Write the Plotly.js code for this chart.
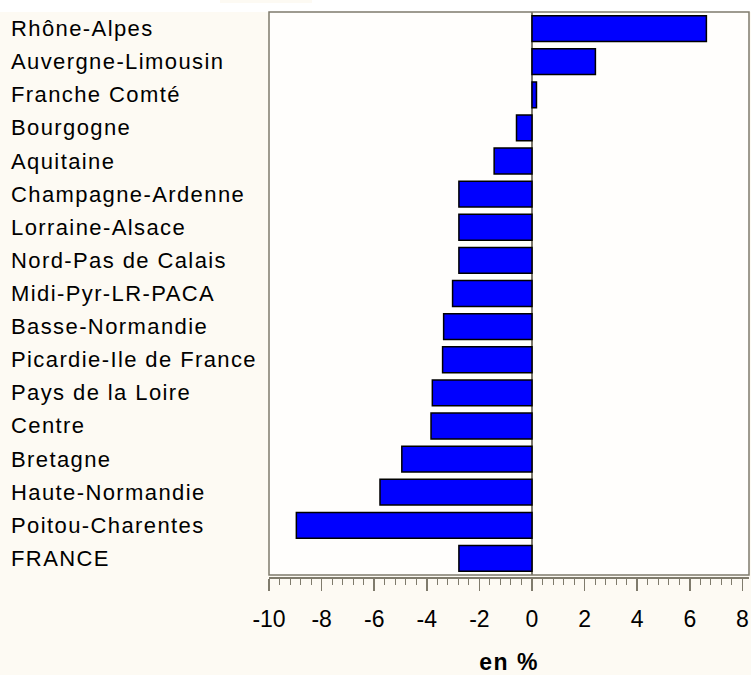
<!DOCTYPE html>
<html>
<head>
<meta charset="utf-8">
<script src="https://cdn.plot.ly/plotly-3.0.1.min.js"></script>
<style>
html,body{margin:0;padding:0;background:#FDFAF3;}
#chart{width:751px;height:675px;}
</style>
</head>
<body>
<div id="chart"></div>
<script>
const regions = ["Rhône-Alpes","Auvergne-Limousin","Franche Comté","Bourgogne","Aquitaine","Champagne-Ardenne","Lorraine-Alsace","Nord-Pas de Calais","Midi-Pyr-LR-PACA","Basse-Normandie","Picardie-Ile de France","Pays de la Loire","Centre","Bretagne","Haute-Normandie","Poitou-Charentes","FRANCE"];
const values = [6.63, 2.41, 0.17, -0.59, -1.44, -2.78, -2.78, -2.78, -3.02, -3.36, -3.40, -3.79, -3.84, -4.95, -5.78, -8.96, -2.78];
const tickVals = [-10,-8,-6,-4,-2,0,2,4,6,8];
const tickText = ["-10","-8","-6","-4","-2","0","2","4","6","8"];

const gray = "#7f7b6c";
const font = "Arial, 'Liberation Sans', sans-serif";

const trace = {
  type: "bar", orientation: "h",
  y: regions, x: values,
  width: 0.78,
  marker: {color: "#0000FF", line: {color: "#000000", width: 1.5}},
  hoverinfo: "none"
};

const annotations = regions.map(r => ({
  xref: "paper", yref: "y", x: -260/480, y: r,
  text: '<span style="letter-spacing:1.4px">' + r + '</span>',
  xanchor: "left", yanchor: "middle", showarrow: false,
  font: {family: font, size: 22, color: "#000"}
}));

const layout = {
  width: 751, height: 675,
  margin: {l: 269, r: 2, t: 12, b: 98, pad: 0},
  paper_bgcolor: "#FDFAF3",
  plot_bgcolor: "#FFFEFC",
  showlegend: false,
  xaxis: {
    range: [-10, 8.25], fixedrange: true,
    anchor: "free", position: 0,
    tickvals: tickVals, ticktext: tickText,
    ticks: "outside", ticklen: 12, tickwidth: 1.5, tickcolor: gray,
    ticklabelstandoff: 9,
    minor: {dtick: 0.4, tick0: 0, ticks: "outside", ticklen: 6, tickwidth: 1, tickcolor: gray, showgrid: false},
    showline: true, linecolor: gray, linewidth: 1.5,
    showgrid: false,
    zeroline: true, zerolinecolor: gray, zerolinewidth: 1.5,
    tickfont: {family: font, size: 23, color: "#000"},
    title: {text: '<span style="letter-spacing:1.5px"><b>en %</b></span>', font: {family: font, size: 23, color: "#000"}, standoff: 36}
  },
  yaxis: {
    domain: [2/565, 1],
    type: "category", autorange: "reversed",
    showticklabels: false, ticks: "", showgrid: false, zeroline: false, showline: false,
    fixedrange: true
  },
  annotations: annotations,
  shapes: [
    {type: "rect", xref: "paper", yref: "paper", x0: -269/480, x1: 482/480, y0: 1, y1: 1 + 13/565, fillcolor: "#FFFFFF", line: {width: 0}, layer: "below"},
    {type: "rect", xref: "paper", yref: "paper", x0: (220-269)/480, x1: (312-269)/480, y0: 1 + 9/565, y1: 1 + 13/565, fillcolor: "#FDFAF3", line: {width: 0}, layer: "below"},
    {type: "rect", xref: "x domain", yref: "y domain", x0: 0, x1: 1, y0: 0, y1: 1, line: {color: gray, width: 1.5}, fillcolor: "rgba(0,0,0,0)", layer: "above"}
  ]
};

Plotly.newPlot("chart", [trace], layout, {displayModeBar: false, staticPlot: true});
</script>
</body>
</html>
